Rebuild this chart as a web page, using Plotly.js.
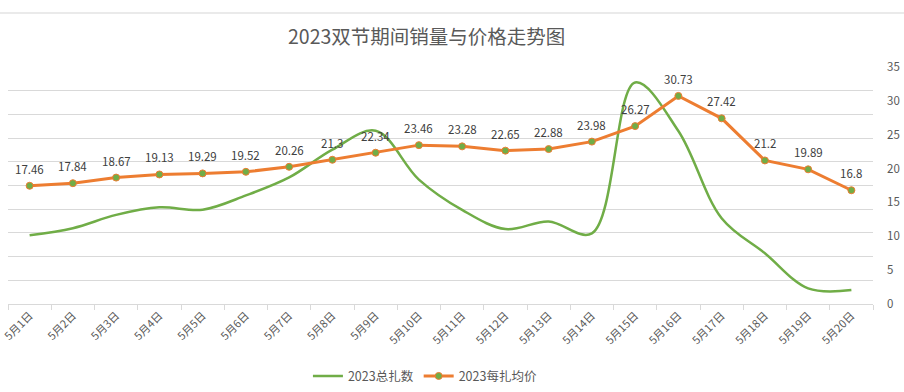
<!DOCTYPE html>
<html><head><meta charset="utf-8">
<script src="https://cdn.plot.ly/plotly-3.0.1.min.js"></script>
<style>html,body{margin:0;padding:0;background:#fff}#chart{width:904px;height:392px}</style>
</head><body><div id="chart"></div>
<script>
const categories = ["5月1日","5月2日","5月3日","5月4日","5月5日","5月6日","5月7日","5月8日","5月9日","5月10日","5月11日","5月12日","5月13日","5月14日","5月15日","5月16日","5月17日","5月18日","5月19日","5月20日"];
const totalBundles = [290,320,376,408,398,458,534,651,731,525,397,316,348,298,935,730,362,214,66,59];
const avgPrice = [17.46,17.84,18.67,19.13,19.29,19.52,20.26,21.3,22.34,23.46,23.28,22.65,22.88,23.98,26.27,30.73,27.42,21.2,19.89,16.8];

const font = '"Noto Sans CJK SC", "Noto Sans", sans-serif';
const traces = [
  {x: categories, y: totalBundles, name: '2023总扎数', type: 'scatter', mode: 'lines',
   line: {color: '#70AD47', width: 2.5, shape: 'spline', smoothing: 1}, yaxis: 'y', hoverinfo: 'skip'},
  {x: categories, y: avgPrice, name: '2023每扎均价', type: 'scatter', mode: 'lines+markers',
   line: {color: '#ED7D31', width: 3}, marker: {color: '#70AD47', size: 7, line: {color: '#ED7D31', width: 1}},
   yaxis: 'y2', cliponaxis: false}
];
const labels = categories.map((c, i) => ({
  x: c, y: avgPrice[i], xref: 'x', yref: 'y2', text: String(avgPrice[i]), showarrow: false,
  yshift: 17, font: {family: font, size: 11.5, color: '#404040'}
}));
const layout = {
  width: 904, height: 392,
  margin: {l: 8, r: 31, t: 67, b: 88},
  paper_bgcolor: '#fff', plot_bgcolor: '#fff',
  font: {family: font, color: '#595959', size: 11},
  title: {text: '2023双节期间销量与价格走势图', font: {family: font, size: 19.5, color: '#595959'},
          x: 0.472, xref: 'container', xanchor: 'center', y: 0.905, yref: 'container', yanchor: 'middle'},
  showlegend: true,
  legend: {orientation: 'h', x: 0.482, xanchor: 'center', y: 0.04, yref: 'container', yanchor: 'middle',
           font: {family: font, size: 12.5, color: '#595959'}},
  annotations: labels,
  shapes: [{type: 'line', xref: 'paper', yref: 'paper', x0: -8/865, x1: 896/865, y0: 291/237, y1: 291/237,
            line: {color: '#e3e3e3', width: 1.5}}],
  xaxis: {type: 'category', range: [-0.5, categories.length - 0.5], autorange: false, automargin: false,
          tickangle: -45, showgrid: false, showline: true, linecolor: '#d9d9d9', linewidth: 1,
          ticks: 'outside', tickson: 'boundaries', ticklen: 5, tickcolor: '#d9d9d9',
          tickfont: {family: font, size: 11, color: '#595959'}, fixedrange: true},
  yaxis: {range: [0, 1000], dtick: 100, showgrid: true, gridcolor: '#d9d9d9', gridwidth: 1, automargin: false,
          showticklabels: false, zeroline: false, showline: false, fixedrange: true},
  yaxis2: {overlaying: 'y', side: 'right', range: [0, 35], dtick: 5, showgrid: false, zeroline: false, automargin: false,
           showline: false, tickfont: {family: font, size: 11.5, color: '#595959'}, ticklabelstandoff: 13, fixedrange: true}
};
Plotly.newPlot('chart', traces, layout, {displayModeBar: false, staticPlot: true});
</script></body></html>
